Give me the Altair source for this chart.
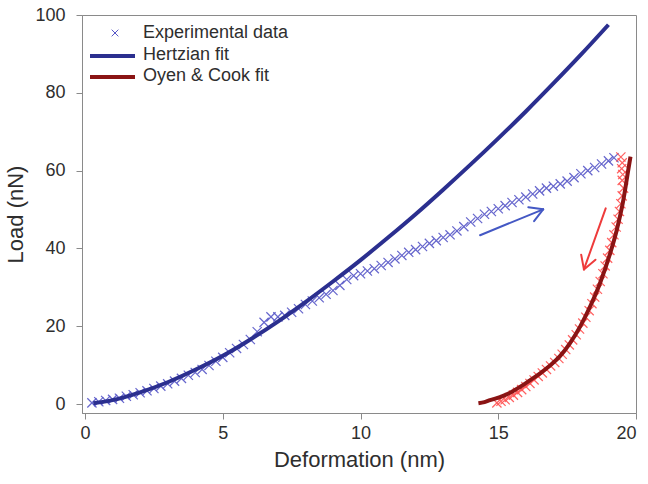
import altair as alt
import pandas as pd

# ---------------- data ----------------
# loading branch, experimental (Deformation nm, Load nN)
load_def = [0.25, 0.5, 0.75, 1.0, 1.25, 1.5, 1.75, 2.0, 2.25, 2.5, 2.75, 3.0, 3.25, 3.5,
            3.75, 4.0, 4.25, 4.5, 4.75, 5.0, 5.25, 5.5, 5.75, 6.0, 6.25, 6.5, 6.75, 7.0,
            7.25, 7.5, 7.75, 8.0, 8.25, 8.5, 8.75, 9.0, 9.25, 9.5, 9.75, 10.0, 10.25, 10.5,
            10.75, 11.0, 11.25, 11.5, 11.75, 12.0, 12.25, 12.5, 12.75, 13.0, 13.25, 13.5,
            13.75, 14.0, 14.25, 14.5, 14.75, 15.0, 15.25, 15.5, 15.75, 16.0, 16.25, 16.5,
            16.75, 17.0, 17.25, 17.5, 17.75, 18.0, 18.25, 18.5, 18.75, 19.0, 19.2]
load_val = [0.3, 0.6, 0.9, 1.2, 1.5, 2.0, 2.4, 2.9, 3.4, 4.0, 4.6, 5.2, 5.9, 6.6,
            7.4, 8.1, 8.9, 9.9, 11.0, 12.0, 13.2, 14.3, 15.3, 16.6, 18.6, 21.0, 22.4, 22.4,
            22.8, 23.6, 24.5, 25.6, 26.5, 27.3, 28.2, 29.2, 30.5, 32.0, 33.0, 33.5, 34.2, 34.8,
            35.6, 36.4, 37.3, 38.2, 39.0, 39.7, 40.5, 41.3, 42.0, 42.8, 43.5, 44.5,
            45.6, 46.8, 47.7, 48.8, 49.5, 50.2, 51.0, 51.8, 52.5, 53.2, 54.0, 54.8,
            55.5, 56.0, 56.6, 57.3, 58.2, 59.2, 60.0, 60.8, 61.7, 62.5, 63.3]

# unloading branch, experimental
unload_def = [19.45, 19.5, 19.48, 19.52, 19.5, 19.55, 19.5, 19.45, 19.4, 19.35, 19.28, 19.2,
              19.12, 19.05, 18.97, 18.88, 18.8, 18.7, 18.6, 18.5, 18.4, 18.3, 18.18, 18.07,
              17.95, 17.83, 17.7, 17.58, 17.45, 17.32, 17.2, 17.05, 16.9, 16.75, 16.6, 16.45,
              16.3, 16.15, 16.0, 15.85, 15.7, 15.55, 15.4, 15.25, 15.1, 14.95]
unload_val = [63.5, 62.0, 60.5, 59.0, 57.5, 55.5, 53.5, 51.5, 49.5, 47.5, 45.5, 43.5,
              41.5, 39.5, 37.5, 35.5, 33.5, 31.5, 29.5, 27.5, 25.8, 24.0, 22.3, 20.8,
              19.3, 17.8, 16.5, 15.2, 14.0, 12.8, 11.7, 10.7, 9.8, 8.9, 8.0, 7.1,
              6.2, 5.3, 4.5, 3.7, 3.0, 2.3, 1.7, 1.1, 0.7, 0.3]

# Hertzian fit
hertz_def = [0.3, 1, 2, 3, 4, 5, 6, 7, 8, 9, 10, 11, 12, 13, 14, 15, 16, 17, 18, 19]
hertz_val = [0.2, 1.0, 3.0, 5.6, 8.8, 12.4, 16.6, 21.2, 26.2, 31.5, 37.0, 42.8, 48.8,
             55.1, 61.6, 68.3, 75.2, 82.4, 89.8, 97.5]

# Oyen & Cook fit
oc_def = [14.28, 14.5, 14.7, 15.06, 15.43, 15.79, 16.15, 16.52, 16.88, 17.24, 17.6,
          17.97, 18.33, 18.69, 19.06, 19.3, 19.54, 19.72, 19.8]
oc_val = [0.2, 0.5, 1.0, 1.8, 2.9, 4.4, 6.1, 7.9, 9.9, 12.3, 15.6, 19.9, 25.0, 31.0,
          38.7, 44.7, 52.4, 60.2, 63.6]

# annotation arrows (segments: x, y, x2, y2 in data units)
blue_arrow_x = [14.34, 16.63, 16.63]
blue_arrow_y = [43.4, 50.05, 50.05]
blue_arrow_x2 = [16.63, 16.09, 16.30]
blue_arrow_y2 = [50.05, 50.6, 47.0]
red_arrow_x = [18.90, 18.11, 18.11]
red_arrow_y = [50.3, 34.6, 34.6]
red_arrow_x2 = [18.11, 18.53, 18.01]
red_arrow_y2 = [34.6, 37.1, 38.4]

legend_labels = ["Experimental data", "Hertzian fit", "Oyen & Cook fit"]
x_ticks = [0, 5, 10, 15, 20]
y_ticks = [0, 20, 40, 60, 80, 100]

# ---------------- styling ----------------
FONT = "Liberation Sans"
TXT = "#2e2e2e"
GRAY = "#8a8a8a"
BLUE_PT = "#5656c8"
RED_PT = "#ff5050"
NAVY = "#2b2f8f"
DARKRED = "#8a1414"
XPATH = "M-1,-1L1,1M1,-1L-1,1"

xs = alt.Scale(domain=[-0.11, 20], nice=False, zero=False)
ys = alt.Scale(domain=[-2.3, 100], nice=False, zero=False)

xax = alt.Axis(values=x_ticks, title="Deformation (nm)", grid=False, tickSize=6,
               tickColor=GRAY, domainColor=GRAY, labelFontSize=18, labelFont=FONT,
               labelColor=TXT, titleFontSize=22, titleFont=FONT, titleColor=TXT,
               titleFontWeight="normal", labelPadding=5, titlePadding=7, format="d")
yax = alt.Axis(values=y_ticks, title="Load (nN)", grid=False, tickSize=6,
               tickColor=GRAY, domainColor=GRAY, labelFontSize=18, labelFont=FONT,
               labelColor=TXT, titleFontSize=22, titleFont=FONT, titleColor=TXT,
               titleFontWeight="normal", labelPadding=11, titlePadding=7, format="d")

load_df = pd.DataFrame({"d": load_def, "f": load_val})
unload_df = pd.DataFrame({"d": unload_def, "f": unload_val})
hertz_df = pd.DataFrame({"d": hertz_def, "f": hertz_val})
oc_df = pd.DataFrame({"d": oc_def, "f": oc_val})

pts_load = alt.Chart(load_df).mark_point(shape=XPATH, filled=False, strokeWidth=1.2,
                                         size=85, color=BLUE_PT, opacity=0.9).encode(
    x=alt.X("d:Q", scale=xs, axis=xax), y=alt.Y("f:Q", scale=ys, axis=yax))
pts_unload = alt.Chart(unload_df).mark_point(shape=XPATH, filled=False, strokeWidth=1.2,
                                             size=85, color=RED_PT, opacity=0.9).encode(
    x=alt.X("d:Q", scale=xs), y=alt.Y("f:Q", scale=ys))
hertz = alt.Chart(hertz_df).mark_line(color=NAVY, strokeWidth=4, interpolate="monotone").encode(
    x=alt.X("d:Q", scale=xs), y=alt.Y("f:Q", scale=ys))
oc = alt.Chart(oc_df).mark_line(color=DARKRED, strokeWidth=4, interpolate="monotone").encode(
    x=alt.X("d:Q", scale=xs), y=alt.Y("f:Q", scale=ys), order="d:Q")

barrow = alt.Chart(pd.DataFrame({"x": blue_arrow_x, "y": blue_arrow_y,
                                 "x2": blue_arrow_x2, "y2": blue_arrow_y2})).mark_rule(
    color="#4458c4", strokeWidth=2, strokeCap="round").encode(
    x=alt.X("x:Q", scale=xs), y=alt.Y("y:Q", scale=ys), x2="x2:Q", y2="y2:Q")
rarrow = alt.Chart(pd.DataFrame({"x": red_arrow_x, "y": red_arrow_y,
                                 "x2": red_arrow_x2, "y2": red_arrow_y2})).mark_rule(
    color="#ee3b3b", strokeWidth=2, strokeCap="round").encode(
    x=alt.X("x:Q", scale=xs), y=alt.Y("y:Q", scale=ys), x2="x2:Q", y2="y2:Q")

# ---------------- manual legend ----------------
one = pd.DataFrame({"k": [0]})
leg_pt = alt.Chart(one).mark_point(shape=XPATH, filled=False, strokeWidth=1, size=45,
                                   color=BLUE_PT, opacity=1).encode(
    x=alt.value(33), y=alt.value(18))
leg_l1 = alt.Chart(one).mark_rule(color=NAVY, strokeWidth=4).encode(
    x=alt.value(8), x2=alt.value(53), y=alt.value(41))
leg_l2 = alt.Chart(one).mark_rule(color=DARKRED, strokeWidth=4).encode(
    x=alt.value(8), x2=alt.value(53), y=alt.value(62))
leg_texts = []
for lab, yy in zip(legend_labels, [18, 40, 61]):
    leg_texts.append(
        alt.Chart(pd.DataFrame({"t": [lab]})).mark_text(
            align="left", baseline="middle", font=FONT, fontSize=18, color=TXT).encode(
            text="t:N", x=alt.value(61), y=alt.value(yy)))

chart = alt.layer(pts_load, pts_unload, hertz, oc, barrow, rarrow,
                  leg_pt, leg_l1, leg_l2, *leg_texts).properties(
    width=554, height=398,
    autosize=alt.AutoSizeParams(type="none"),
    padding={"left": 82, "top": 15, "right": 12, "bottom": 71},
    background="white",
).configure_view(stroke=GRAY, strokeWidth=1)

chart.save("out.html", embed_options={"renderer": "svg", "actions": False})
